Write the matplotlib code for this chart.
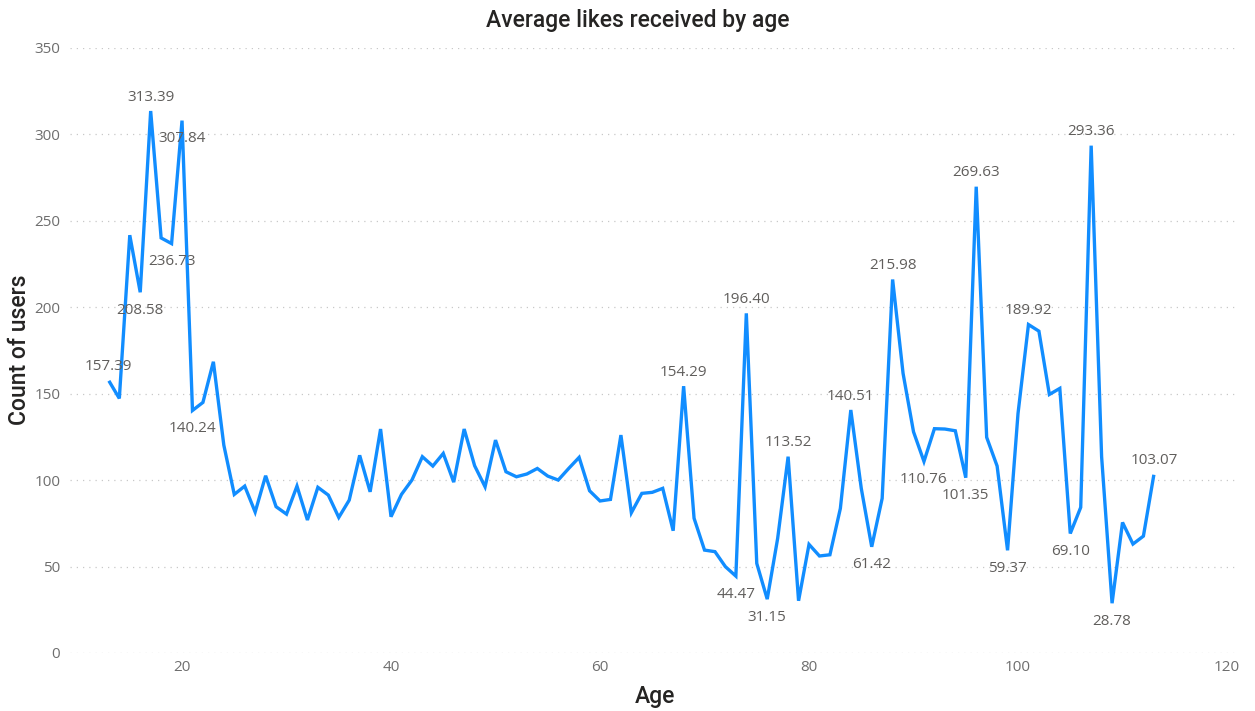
import matplotlib
matplotlib.use("Agg")
import matplotlib.pyplot as plt

# Average likes received per user age
ages = list(range(13, 114))
avg_likes = [
    157.39, 147.2, 241.6, 208.58, 313.39, 240.0, 236.73, 307.84, 140.24, 144.9,
    168.4, 120.2, 91.7, 96.5, 81.5, 102.5, 84.6, 80.3, 96.5, 76.9,
    95.8, 91.3, 78.4, 88.4, 114.3, 93.2, 129.5, 78.8, 91.7, 100.0,
    113.5, 108.1, 115.4, 98.8, 129.5, 108.3, 96.1, 123.1, 104.8, 101.9,
    103.5, 106.7, 102.3, 100.0, 106.7, 113.1, 93.8, 87.9, 88.8, 126.0,
    81.1, 92.3, 92.9, 95.2, 70.7, 154.29, 77.9, 59.5, 58.6, 49.9,
    44.47, 196.40, 51.8, 31.15, 66.3, 113.52, 30.2, 62.8, 56.1, 56.8,
    83.6, 140.51, 95.2, 61.42, 89.4, 215.98, 161.7, 127.9, 110.76, 129.7,
    129.5, 128.5, 101.35, 269.63, 124.7, 108.1, 59.37, 138.5, 189.92, 186.1,
    149.5, 153.0, 69.10, 84.2, 293.36, 113.5, 28.78, 75.5, 63.0, 67.6,
    103.07,
]

# Ages whose value is printed, and whether the label sits above (+1) or below (-1)
labelled_ages = [13, 16, 17, 19, 20, 21, 68, 73, 74, 76, 78, 84, 86, 88, 91,
                 95, 96, 99, 101, 105, 107, 109, 113]
label_side = [1, -1, 1, -1, -1, -1, 1, -1, 1, -1, 1, 1, -1, 1, -1,
              -1, 1, -1, 1, -1, 1, -1, 1]

y_ticks = [0, 50, 100, 150, 200, 250, 300, 350]
x_ticks = [20, 40, 60, 80, 100, 120]

LINE = "#118DFF"
TEXT = "#605E5C"
DARK = "#252423"
LABEL_FONT = ["Open Sans", "DejaVu Sans"]
TITLE_FONT = ["Roboto", "DejaVu Sans"]

fig = plt.figure(figsize=(12.55, 7.11), dpi=100)
ax = fig.add_axes([70 / 1255, 1 - 653 / 711, (1236 - 70) / 1255, (653 - 47.7) / 711])

ax.plot(ages, avg_likes, color=LINE, linewidth=2.4, solid_joinstyle="miter",
        solid_capstyle="butt", zorder=3)

for age, side in zip(labelled_ages, label_side):
    val = avg_likes[ages.index(age)]
    offset = 10 if side > 0 else -13
    ax.annotate(f"{val:.2f}", (age, val), xytext=(0, offset),
                textcoords="offset points", ha="center",
                va="center", fontsize=11, color=TEXT, family=LABEL_FONT,
                zorder=4)

ax.set_xlim(9.28, 120.86)
ax.set_ylim(0, 350)
ax.set_xticks(x_ticks)
ax.set_yticks(y_ticks)
ax.tick_params(axis="both", length=0, labelsize=11, labelcolor="#6E6E6E")
ax.tick_params(axis="y", pad=7)
ax.tick_params(axis="x", pad=5)
for lab in ax.get_xticklabels() + ax.get_yticklabels():
    lab.set_family(LABEL_FONT)

ax.grid(axis="y", color="#C8C8C8", linestyle=(0, (1, 4)), linewidth=0.9)
ax.grid(axis="x", visible=False)
ax.set_axisbelow(True)
for sp in ax.spines.values():
    sp.set_visible(False)

fig.text(638 / 1255, 1 - 20 / 711, "Average likes received by age",
         ha="center", va="center", fontsize=16.5, color=DARK, family=TITLE_FONT,
         weight="medium")
fig.text(20 / 1255, 1 - 350 / 711, "Count of users", rotation=90,
         ha="center", va="center", fontsize=16.5, color=DARK, family=TITLE_FONT,
         weight="medium")
fig.text(655 / 1255, 1 - 697 / 711, "Age", ha="center", va="center",
         fontsize=16.5, color=DARK, family=TITLE_FONT, weight="medium")

fig.savefig("out.png", dpi=100, facecolor="white")
